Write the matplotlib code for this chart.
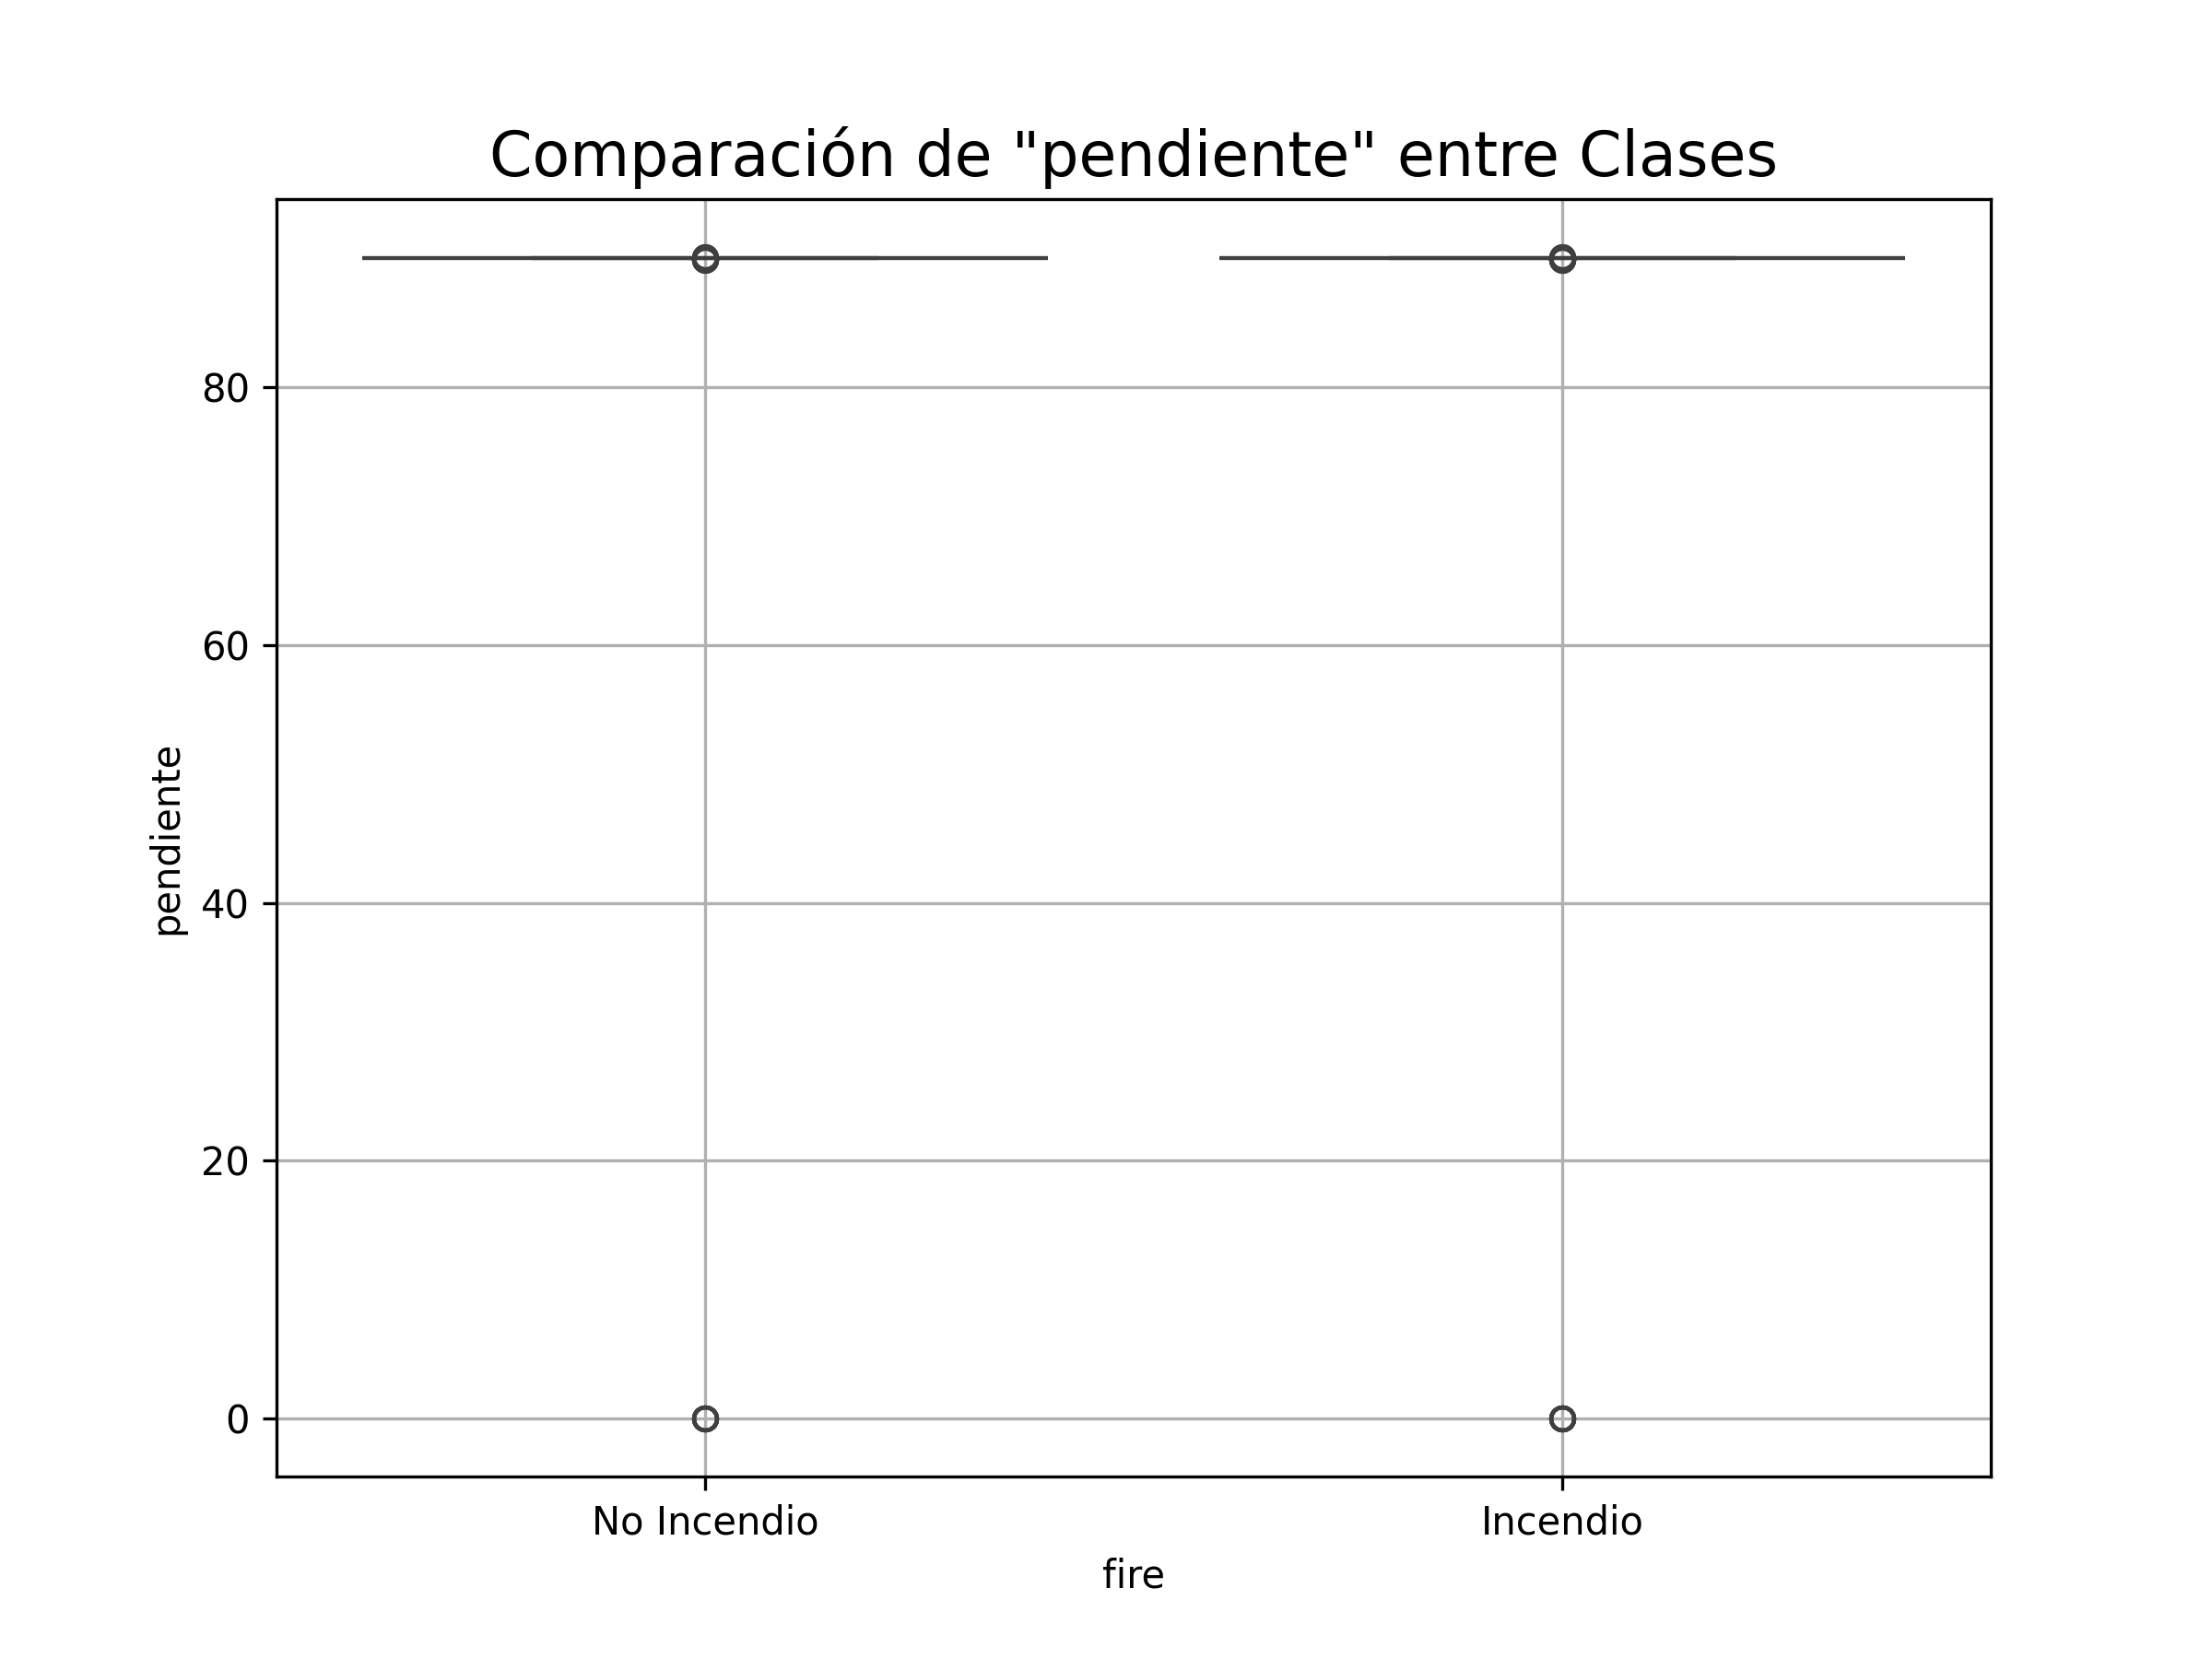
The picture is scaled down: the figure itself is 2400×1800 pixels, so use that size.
import matplotlib
matplotlib.use("Agg")
import matplotlib.pyplot as plt
import seaborn as sns
import pandas as pd

categories = ["No Incendio", "Incendio"]
no_incendio_values = [90.0] * 200 + [89.98] * 30 + [89.9, 89.92, 90.05, 90.08, 89.95, 90.1] + [0.0] * 8
incendio_values = [90.0] * 200 + [89.98] * 30 + [89.9, 89.92, 90.05, 90.08, 89.95, 90.1] + [0.0] * 8

df = pd.DataFrame({
    "fire": [categories[0]] * len(no_incendio_values) + [categories[1]] * len(incendio_values),
    "pendiente": no_incendio_values + incendio_values,
})

fig, ax = plt.subplots(figsize=(8, 6), dpi=300)
sns.boxplot(data=df, x="fire", y="pendiente", ax=ax, order=categories)
ax.set_title('Comparación de "pendiente" entre Clases', fontsize=16)
ax.set_xlabel("fire")
ax.set_ylabel("pendiente")
ax.grid(True)
fig.savefig("out.png", dpi=300)
